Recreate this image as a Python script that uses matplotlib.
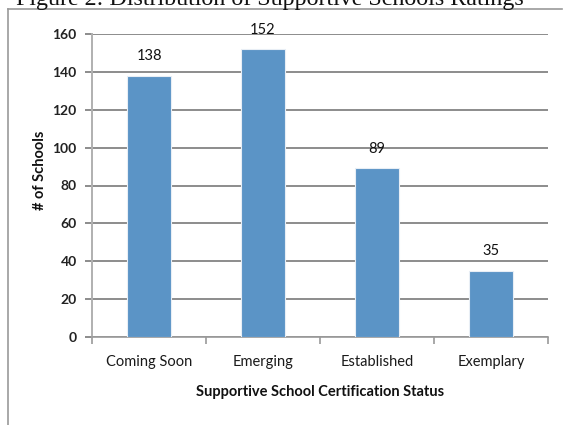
import matplotlib
matplotlib.use("Agg")
import matplotlib.pyplot as plt
from matplotlib.lines import Line2D
import numpy as np

categories = ["Coming Soon", "Emerging", "Established", "Exemplary"]
schools = [138, 152, 89, 35]
y_ticks = [0, 20, 40, 60, 80, 100, 120, 140, 160]

W, H = 564, 425
fig = plt.figure(figsize=(W / 100, H / 100), dpi=100)
fig.patch.set_facecolor("white")

# Document frame around the chart
fig.add_artist(Line2D([8 / W, 8 / W], [0, 1 - 9 / H], color="#9a9a9a", lw=1.2))
fig.add_artist(Line2D([8 / W, 562 / W], [1 - 9 / H, 1 - 9 / H], color="#9a9a9a", lw=1.2))

# Caption sitting above the frame (clipped by the top edge)
fig.text(270 / W, 1 - 5 / H, "Figure 2: Distribution of Supportive Schools Ratings",
         ha="center", va="baseline", family="Liberation Serif", fontsize=17.3,
         color="#111111")

ax = fig.add_axes([92 / W, 1 - 337 / H, (548 - 92) / W, (337 - 34) / H])
x = np.arange(len(categories))
ax.bar(x, schools, width=0.39, color="#5b94c6", edgecolor="#e8eef5", linewidth=0.8, zorder=3)

ax.set_xlim(-0.5, len(categories) - 0.5)
ax.set_ylim(0, 160)
ax.set_yticks(y_ticks)
ax.set_yticklabels([str(v) for v in y_ticks], family="Lato", fontweight="bold",
                   fontsize=10, color="#222222")
ax.grid(axis="y", color="#8c8c8c", lw=1.4, zorder=0)
ax.set_axisbelow(True)

# Category labels centred under bars, tick marks on category boundaries
ax.set_xticks(np.arange(len(categories) + 1) - 0.5)
ax.set_xticklabels([])
ax.tick_params(axis="x", length=5, width=1.2, color="#9a9a9a", direction="out")
ax.tick_params(axis="y", length=5, width=1.4, color="#8c8c8c", direction="out", pad=6)
for xi, name in zip(x, categories):
    ax.text(xi, -13, name, ha="center", va="center", family="Lato", fontsize=10.5,
            color="#1a1a1a")

for xi, v in zip(x, schools):
    ax.text(xi, v + 6.5, str(v), ha="center", va="bottom", family="Lato", fontsize=10.5,
            color="#111111")

for side in ["top", "right"]:
    ax.spines[side].set_visible(False)
ax.spines["left"].set_color("#b0b0b0")
ax.spines["left"].set_linewidth(1.4)
ax.spines["bottom"].set_color("#9a9a9a")
ax.spines["bottom"].set_linewidth(1.2)

fig.text(320 / W, 1 - 392 / H, "Supportive School Certification Status", ha="center",
         va="center", family="Lato", fontweight="bold", fontsize=10.5, color="#111111")
fig.text(40 / W, 1 - 170 / H, "# of Schools", ha="center", va="center", rotation=90,
         family="Lato", fontweight="bold", fontsize=10.5, color="#111111")

fig.savefig("out.png", dpi=100, facecolor="white")
